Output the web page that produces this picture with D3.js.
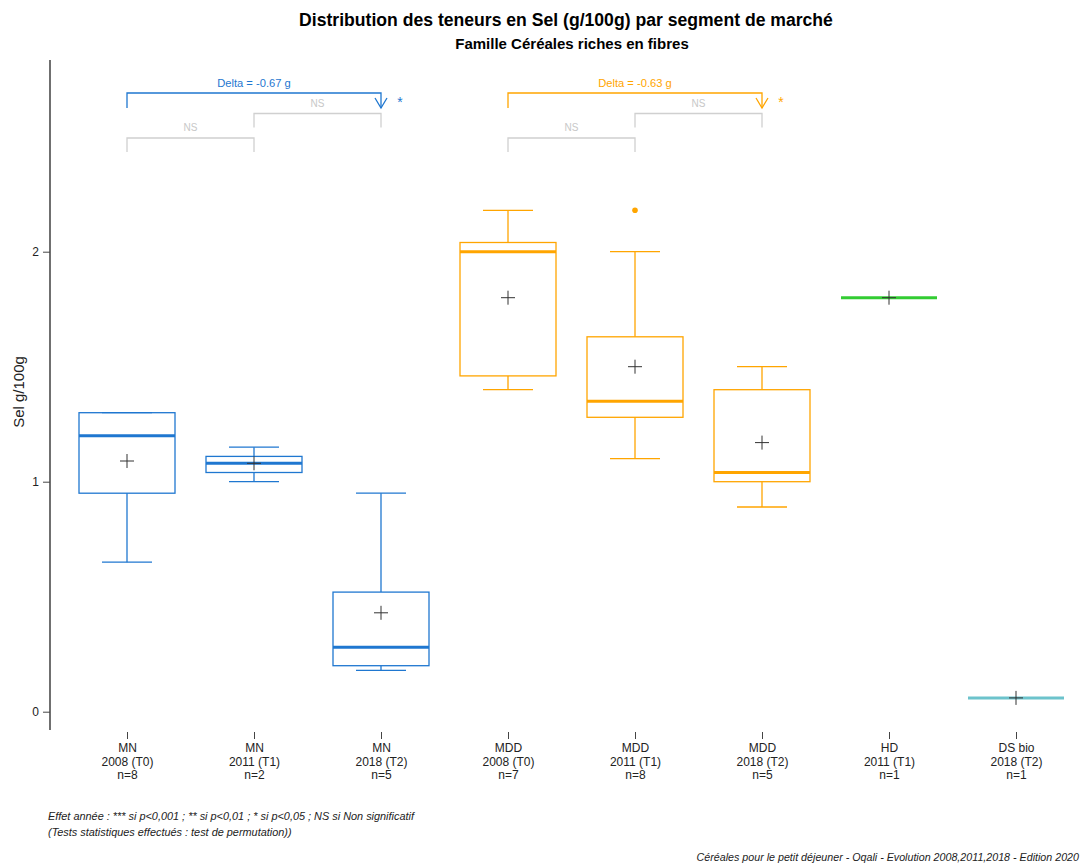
<!DOCTYPE html>
<html>
<head>
<meta charset="utf-8">
<script src="https://cdn.jsdelivr.net/npm/d3@7"></script>
<style>
  body { margin: 0; background: #fff; font-family: "Liberation Sans", Arial, sans-serif; }
</style>
</head>
<body>
<div id="chart"></div>
<script>
// data
const segments = ["MN", "MN", "MN", "MDD", "MDD", "MDD", "HD", "DS bio"];
const periods  = ["2008 (T0)", "2011 (T1)", "2018 (T2)", "2008 (T0)", "2011 (T1)", "2018 (T2)", "2011 (T1)", "2018 (T2)"];
const counts   = [8, 2, 5, 7, 8, 5, 1, 1];
const whiskLow = [0.65, 1.00, 0.18, 1.40, 1.10, 0.89, 1.80, 0.06];
const q1s      = [0.95, 1.04, 0.20, 1.46, 1.28, 1.00, 1.80, 0.06];
const medians  = [1.20, 1.08, 0.28, 2.00, 1.35, 1.04, 1.80, 0.06];
const q3s      = [1.30, 1.11, 0.52, 2.04, 1.63, 1.40, 1.80, 0.06];
const whiskHigh= [1.30, 1.15, 0.95, 2.18, 2.00, 1.50, 1.80, 0.06];
const means    = [1.09, 1.08, 0.43, 1.80, 1.50, 1.17, 1.80, 0.06];
const outliers = [[], [], [], [], [2.18], [], [], []];
const yTicks   = [0, 1, 2];

const segColor = {"MN": "#1f77d0", "MDD": "#ffa500", "HD": "#33cc33", "DS bio": "#6cc3cc"};

// comparisons drawn as brackets above the boxes
const comparisons = [
  {from: 0, to: 2, label: "Delta = -0.67 g", sig: "*", seg: "MN", level: 0},
  {from: 1, to: 2, label: "NS", sig: "", seg: "NS", level: 1},
  {from: 0, to: 1, label: "NS", sig: "", seg: "NS", level: 2},
  {from: 3, to: 5, label: "Delta = -0.63 g", sig: "*", seg: "MDD", level: 0},
  {from: 4, to: 5, label: "NS", sig: "", seg: "NS", level: 1},
  {from: 3, to: 4, label: "NS", sig: "", seg: "NS", level: 2}
];

const W = 1084, H = 866;
const svg = d3.select("#chart").append("svg")
  .attr("width", W).attr("height", H)
  .style("font-family", "'Liberation Sans', Arial, sans-serif");

const idx = d3.range(segments.length);
const x = d3.scalePoint().domain(idx).range([127, 1016]);
const y = d3.scaleLinear().domain([0, 2]).range([711.7, 251.7]);
const halfW = 48;

// titles
svg.append("text").attr("x", 566).attr("y", 26).attr("text-anchor", "middle")
  .style("font-size", "17.6px").style("font-weight", "bold")
  .text("Distribution des teneurs en Sel (g/100g) par segment de marché");
svg.append("text").attr("x", 572).attr("y", 49).attr("text-anchor", "middle")
  .style("font-size", "15px").style("font-weight", "bold")
  .text("Famille Céréales riches en fibres");

// Y axis
const yAxis = svg.append("g")
  .attr("transform", "translate(50,0)")
  .call(d3.axisLeft(y).tickValues(yTicks).tickFormat(d3.format("d")).tickSize(7).tickPadding(4));
yAxis.select(".domain").attr("d", "M0,60V730").attr("stroke", "#222").attr("stroke-width", 1.3);
yAxis.selectAll(".tick line").attr("stroke", "#444");
yAxis.selectAll(".tick text").style("font-size", "12px").attr("fill", "#222");

svg.append("text")
  .attr("transform", "translate(24,392) rotate(-90)")
  .attr("text-anchor", "middle")
  .style("font-size", "15px").attr("fill", "#222")
  .text("Sel g/100g");

// X axis (ticks only, multi-line labels)
const xAxis = svg.append("g")
  .attr("transform", "translate(0,732)")
  .call(d3.axisBottom(x).tickSize(7).tickFormat(""));
xAxis.select(".domain").remove();
xAxis.selectAll(".tick line").attr("stroke", "#444");
xAxis.selectAll(".tick").each(function(i) {
  const t = d3.select(this).append("text").attr("fill", "#222")
    .attr("text-anchor", "middle").style("font-size", "12px");
  [segments[i], periods[i], "n=" + counts[i]].forEach((s, k) => {
    t.append("tspan").attr("x", 0).attr("y", 20 + k * 13.7).text(s);
  });
});

// boxes
const boxes = svg.append("g");
idx.forEach(i => {
  const c = segColor[segments[i]];
  const cx = x(i);
  const g = boxes.append("g");
  if (counts[i] > 1) {
    // whiskers
    g.append("line").attr("x1", cx).attr("x2", cx)
      .attr("y1", y(q3s[i])).attr("y2", y(whiskHigh[i])).attr("stroke", c).attr("stroke-width", 1.3);
    g.append("line").attr("x1", cx).attr("x2", cx)
      .attr("y1", y(q1s[i])).attr("y2", y(whiskLow[i])).attr("stroke", c).attr("stroke-width", 1.3);
    [whiskHigh[i], whiskLow[i]].forEach(v => {
      g.append("line").attr("x1", cx - 25).attr("x2", cx + 25)
        .attr("y1", y(v)).attr("y2", y(v)).attr("stroke", c).attr("stroke-width", 1.3);
    });
    g.append("rect").attr("x", cx - halfW).attr("width", halfW * 2)
      .attr("y", y(q3s[i])).attr("height", y(q1s[i]) - y(q3s[i]))
      .attr("fill", "none").attr("stroke", c).attr("stroke-width", 1.3);
  }
  g.append("line").attr("x1", cx - halfW).attr("x2", cx + halfW)
    .attr("y1", y(medians[i])).attr("y2", y(medians[i]))
    .attr("stroke", c).attr("stroke-width", 3);
  outliers[i].forEach(v => {
    g.append("circle").attr("cx", cx).attr("cy", y(v)).attr("r", 2.8).attr("fill", c);
  });
  // mean cross
  const my = y(means[i]);
  g.append("path").attr("d", `M${cx - 7},${my}H${cx + 7}M${cx},${my - 7}V${my + 7}`)
    .attr("stroke", "#333").attr("stroke-width", 1);
});

// significance brackets
const levelY = [93, 113.5, 138];
const legH = [15, 14, 14];
const br = svg.append("g");
comparisons.forEach(cmp => {
  const c = cmp.seg === "NS" ? "#d0d0d0" : segColor[cmp.seg];
  const x1 = x(cmp.from), x2 = x(cmp.to);
  const yy = levelY[cmp.level], h = legH[cmp.level];
  br.append("path").attr("d", `M${x1},${yy + h}V${yy}H${x2}V${yy + h}`)
    .attr("fill", "none").attr("stroke", c).attr("stroke-width", 1.3);
  if (cmp.sig) {
    br.append("path").attr("d", `M${x2 - 6},${yy + 5}L${x2},${yy + h}L${x2 + 6},${yy + 5}`)
      .attr("fill", "none").attr("stroke", c).attr("stroke-width", 1.3);
    br.append("text").attr("x", x2 + 19).attr("y", yy + 14).attr("text-anchor", "middle")
      .attr("fill", c).style("font-size", "14px").text(cmp.sig);
    br.append("text").attr("x", (x1 + x2) / 2).attr("y", yy - 6).attr("text-anchor", "middle")
      .attr("fill", c).style("font-size", "11.2px").text(cmp.label);
  } else {
    br.append("text").attr("x", (x1 + x2) / 2).attr("y", yy - 7).attr("text-anchor", "middle")
      .attr("fill", "#c8c8c8").style("font-size", "10px").text(cmp.label);
  }
});

// notes
svg.append("text").attr("x", 48).attr("y", 820).style("font-size", "10.9px").style("font-style", "italic")
  .attr("fill", "#222").text("Effet année : *** si p<0,001 ; ** si p<0,01 ; * si p<0,05 ; NS si Non significatif");
svg.append("text").attr("x", 48).attr("y", 836).style("font-size", "10.9px").style("font-style", "italic")
  .attr("fill", "#222").text("(Tests statistiques effectués : test de permutation))");
svg.append("text").attr("x", 1079).attr("y", 861).attr("text-anchor", "end")
  .style("font-size", "10.7px").style("font-style", "italic").attr("fill", "#222")
  .text("Céréales pour le petit déjeuner - Oqali - Evolution 2008,2011,2018 - Edition 2020");
</script>
</body>
</html>
